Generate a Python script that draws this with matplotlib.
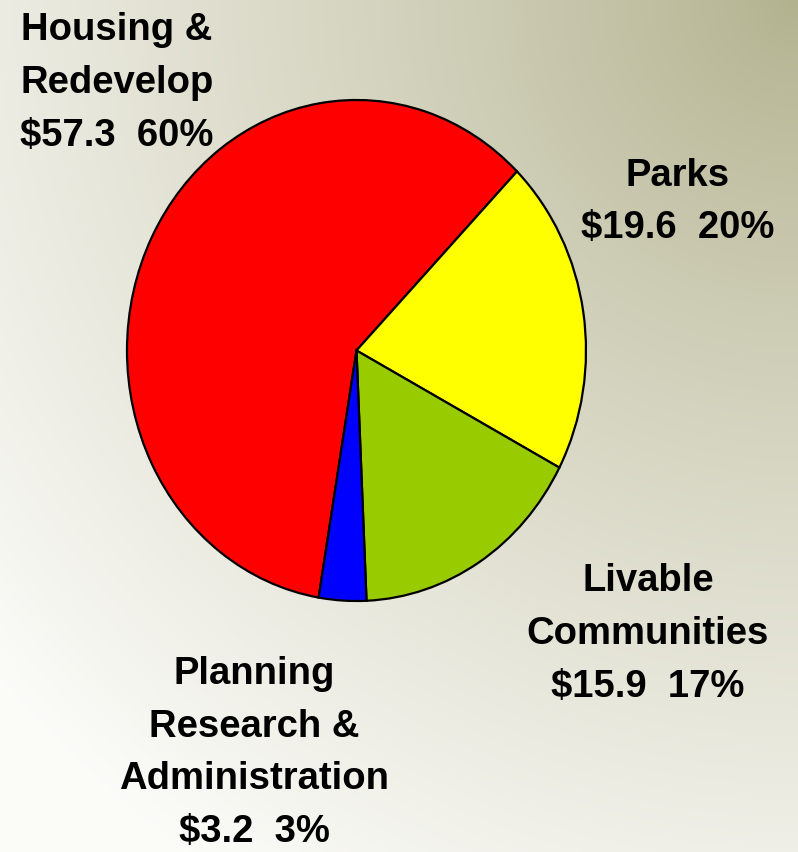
import numpy as np
import matplotlib
matplotlib.use('Agg')
import matplotlib.pyplot as plt

labels = ['Housing &\nRedevelop', 'Parks', 'Livable\nCommunities',
          'Planning\nResearch &\nAdministration']
values = [57.3, 19.6, 15.9, 3.2]
percents = [60, 20, 17, 3]
colors = ['#ff0000', '#ffff00', '#99cc00', '#0000ff']

W, H = 798, 853
fig = plt.figure(figsize=(W / 100, H / 100), dpi=100)

# background gradient: olive at top right fading to white at bottom left
bg = fig.add_axes([0, 0, 1, 1])
yy, xx = np.mgrid[0:H, 0:W]
d = np.hypot(W - xx, yy) / 1050.0
t = np.clip(d, 0, 1) ** 0.85
olive = np.array([0.70, 0.695, 0.555])
white = np.array([0.985, 0.985, 0.975])
img = olive[None, None, :] + (white - olive)[None, None, :] * t[..., None]
bg.imshow(img, extent=[0, W, H, 0], aspect='auto')
bg.set_axis_off()

# pie axes (slightly taller than wide, like the original)
ax = fig.add_axes([127 / W, (H - 602) / H, 459 / W, 501 / H])
ax.pie(values, colors=colors, startangle=260.5, counterclock=False,
       wedgeprops=dict(edgecolor='black', linewidth=1.6))
ax.set_aspect('auto')
ax.set_xlim(-1, 1)
ax.set_ylim(-1, 1)
for p in ax.patches:
    p.set_clip_on(False)

font = dict(fontsize=27.5, fontweight='bold', family='Liberation Sans',
            ha='center', va='center', linespacing=1.6)

texts = [f'{l}\n${v}  {p}%' for l, v, p in zip(labels, values, percents)]
pos = [(117, 83), (678, 202), (648, 634), (254, 753)]
for s, (x, y) in zip(texts, pos):
    fig.text(x / W, 1 - y / H, s, **font)

fig.savefig('out.png', dpi=100)
